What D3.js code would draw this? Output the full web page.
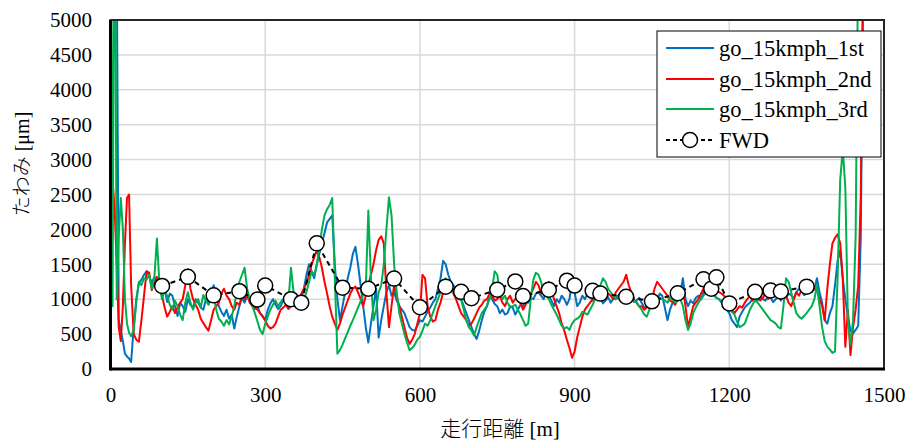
<!DOCTYPE html>
<html>
<head>
<meta charset="utf-8">
<script src="https://cdn.jsdelivr.net/npm/d3@7"></script>
<style>
  body { margin: 0; background: #fff; }
  svg { display: block; }
  text { font-family: "Liberation Serif", "Times New Roman", serif; fill: #000; }
</style>
</head>
<body>
<svg id="chart" width="909" height="441"></svg>
<script>
// Data

const distance = [
  0, 4, 8, 12, 16, 20, 24, 28, 32, 36, 40, 45, 50, 55, 60,
  65, 70, 75, 80, 85, 90, 95, 100, 105, 110, 115, 120, 125, 130, 135, 140, 145, 150, 155, 160,
  165, 170, 175, 180, 185, 190, 195, 200, 205, 210, 215, 220, 225, 230, 235, 240, 245, 250, 255, 260,
  265, 270, 275, 280, 285, 290, 295, 300, 305, 310, 315, 320, 325, 330, 335, 340, 345, 350, 355, 360,
  365, 370, 375, 380, 385, 390, 395, 400, 405, 410, 415, 420, 425, 430, 435, 440, 445, 450, 455, 460,
  465, 470, 475, 480, 485, 490, 495, 500, 505, 510, 515, 520, 525, 530, 535, 540, 545, 550, 555, 560,
  565, 570, 575, 580, 585, 590, 595, 600, 605, 610, 615, 620, 625, 630, 635, 640, 645, 650, 655, 660,
  665, 670, 675, 680, 685, 690, 695, 700, 705, 710, 715, 720, 725, 730, 735, 740, 745, 750, 755, 760,
  765, 770, 775, 780, 785, 790, 795, 800, 805, 810, 815, 820, 825, 830, 835, 840, 845, 850, 855, 860,
  865, 870, 875, 880, 885, 890, 895, 900, 905, 910, 915, 920, 925, 930, 935, 940, 945, 950, 955, 960,
  965, 970, 975, 980, 985, 990, 995, 1000, 1005, 1010, 1015, 1020, 1025, 1030, 1035, 1040, 1045, 1050, 1055, 1060,
  1065, 1070, 1075, 1080, 1085, 1090, 1095, 1100, 1105, 1110, 1115, 1120, 1125, 1130, 1135, 1140, 1145, 1150, 1155, 1160,
  1165, 1170, 1175, 1180, 1185, 1190, 1195, 1200, 1205, 1210, 1215, 1220, 1225, 1230, 1235, 1240, 1245, 1250, 1255, 1260,
  1265, 1270, 1275, 1280, 1285, 1290, 1295, 1300, 1305, 1310, 1315, 1320, 1325, 1330, 1335, 1340, 1345, 1350, 1355, 1360,
  1365, 1370, 1375, 1380,
  1385, 1390, 1395, 1400, 1405, 1410, 1415, 1420, 1425, 1430, 1435, 1440, 1445, 1450, 1455, 1460
];

const run1st = [
  8000, 8000, 7000, 6000, 700, 550, 400, 220, 180, 150, 100, 600, 1000, 1230, 1280,
  1350, 1400, 1330, 1230, 1320, 1250, 1180, 1100, 1150, 960, 1080, 1050, 900, 760, 950, 900, 820, 1000, 920, 880,
  1000, 950, 880, 850, 1000, 960, 1080, 1200, 1050, 900, 820, 760, 850, 720, 780, 580, 750, 900, 1020, 950,
  1050, 1000, 920, 860, 900, 800, 760, 700, 850, 940, 1000, 920, 860, 900, 980, 950, 880, 1000, 1080, 1050,
  980, 1000, 1150, 1350, 1500, 1400, 1300, 1500, 1650, 1800, 1950, 2100, 2150, 2200, 1500, 1000, 700, 900, 1100, 1300,
  1450, 1650, 1750, 1500, 1200, 900, 600, 380, 650, 900, 1150, 450, 700, 900, 1100, 1200, 1050, 1100, 980, 900,
  850, 800, 700, 600, 560, 550, 620, 700, 680, 750, 820, 880, 950, 1000, 1150, 1300, 1550, 1500, 1350, 1250,
  1200, 1150, 1080, 1000, 900, 800, 700, 600, 500, 430, 550, 700, 820, 900, 1050, 1000, 930, 900, 800, 850,
  780, 800, 900, 880, 780, 850, 920, 900, 980, 950, 1020, 1000, 1080, 1100, 1050, 1000, 1120, 1050, 980, 900,
  1000, 950, 1050, 1000, 920, 1000, 1250, 1100, 900, 950, 1050, 1000, 1080, 1050, 980, 1000, 1080, 1020, 940, 980,
  1030, 950, 1010, 1000, 1060, 1080, 1020, 1100, 1040, 1050, 960, 980, 1020, 950, 880, 900, 980, 1000, 920, 950,
  1080, 1050, 880, 700, 850, 950, 1020, 1000, 1080, 1300, 1000, 900, 980, 940, 1020, 1050, 1000, 1100, 1160, 1130,
  1050, 1080, 1020, 1000, 950, 900, 850, 800, 700, 650, 600, 750, 820, 880, 920, 950, 1000, 1030, 980, 1040,
  1000, 980, 1050, 1020, 960, 1000, 1040, 980, 1050, 1020, 1080, 1060, 1000, 1100, 1150, 1130, 1060, 1080, 1120, 1100,
  1150, 1300, 1100, 950,
  700, 650, 800, 900, 1200, 1550, 1700, 1300, 1000, 750, 550, 510, 560, 620, 1900, 6000
];

const run2nd = [
  4600, 2700, 2300, 1500, 600, 400, 900, 1800, 2450, 2500, 1200, 500, 420, 390, 700,
  1050, 1400, 1380, 1130, 1250, 1320, 1150, 1050, 880, 750, 820, 900, 800, 880, 950, 1000, 1200, 1430, 1150, 1000,
  920, 850, 720, 660, 600, 550, 700, 850, 900, 950, 1080, 1150, 1050, 1000, 900, 850, 950, 920, 1050, 1000,
  1050, 950, 900, 880, 850, 800, 750, 700, 620, 580, 600, 650, 750, 850, 880, 920, 860, 900, 980, 950,
  1000, 1080, 1150, 1230, 1350, 1500, 1600, 1700, 1600, 1450, 1250, 1080, 900, 750, 650, 560, 650, 780, 880, 980,
  1080, 1150, 1180, 1100, 1000, 900, 1050, 1200, 1350, 1500, 1700, 1850, 1900, 1800, 1100, 600, 900, 1200, 1050, 900,
  750, 600, 450, 360, 420, 500, 650, 800, 1350, 1300, 900, 750, 680, 700, 850, 950, 1100, 1250, 1200, 1150,
  1080, 1000, 900, 800, 750, 700, 620, 650, 720, 800, 880, 920, 980, 1000, 1080, 1050, 980, 1000, 1050, 950,
  900, 1000, 1050, 950, 1000, 1050, 950, 850, 920, 1000, 1080, 1150, 1250, 1200, 1080, 1100, 1200, 1250, 1150, 1000,
  900, 800, 650, 550, 420, 300, 160, 250, 450, 600, 750, 850, 900, 950, 1000, 1050, 1150, 1100, 1050, 1000,
  1080, 1050, 1000, 1100, 1150, 1200, 1250, 1350, 1200, 1100, 1000, 950, 900, 900, 850, 880, 950, 1000, 1150, 1250,
  1200, 1150, 1100, 1050, 980, 960, 920, 1000, 1080, 1150, 900, 600, 750, 900, 950, 1000, 1080, 1150, 1180, 1200,
  1150, 1180, 1120, 1100, 1080, 1050, 980, 900, 850, 800, 850, 900, 880, 950, 1000, 1050, 980, 1020, 1080, 980,
  1020, 1080, 1000, 1050, 1120, 1100, 1050, 1150, 1100, 1050, 950, 900, 1000, 1100, 1050, 1130, 1200, 1150, 1100, 1180,
  1150, 1120, 1000, 900,
  700, 1150, 1500, 1800, 1880, 1930, 1800, 1300, 320, 850, 200, 600, 850, 1200, 2500, 6000
];

const run3rd = [
  8000, 900, 8000, 1000, 1900, 2450, 2000, 1000, 650, 520, 470, 560, 950, 1250, 1200,
  1300, 1280, 1350, 1150, 1300, 1870, 1200, 1000, 1150, 1040, 920, 850, 980, 900, 780, 700, 950, 1100, 950, 850,
  950, 1000, 880, 1060, 980, 920, 1000, 1050, 850, 720, 680, 620, 700, 640, 750, 900, 1100, 1250, 1350, 1450,
  1150, 1000, 900, 800, 680, 560, 500, 650, 750, 850, 920, 980, 900, 960, 1000, 1050, 980, 1450, 1100, 1000,
  950, 900, 1000, 1100, 1250, 1400, 1350, 1480, 1750, 2000, 2200, 2290, 2350, 2450, 1300, 220, 270, 350, 440, 530,
  620, 700, 790, 880, 970, 1060, 1150, 2270, 1300, 700, 850, 1100, 1200, 1500, 2000, 2460, 2200, 1500, 1100, 800,
  650, 500, 380, 270, 300, 350, 420, 460, 550, 650, 620, 700, 800, 900, 1000, 1100, 1250, 1300, 1250, 1200,
  1100, 1050, 1000, 990, 850, 700, 600, 550, 480, 600, 700, 800, 850, 900, 1000, 1150, 1400, 1350, 1100, 1000,
  1050, 950, 880, 900, 920, 850, 780, 700, 620, 650, 1000, 1280, 1380, 1350, 1250, 1100, 1050, 1000, 920, 850,
  780, 700, 620, 580, 600, 560, 650, 700, 720, 750, 820, 800, 780, 850, 920, 1000, 1100, 1200, 1300, 1250,
  1150, 1100, 1050, 1000, 1020, 1050, 1080, 1100, 1050, 1000, 980, 960, 900, 850, 780, 750, 850, 950, 1000, 1050,
  1020, 1000, 980, 950, 1020, 1000, 950, 980, 1000, 900, 700, 560, 650, 800, 880, 950, 1000, 1050, 1100, 1150,
  1100, 1050, 1020, 1000, 980, 950, 900, 880, 820, 780, 680, 600, 620, 650, 750, 850, 920, 980, 950, 900,
  850, 800, 750, 700, 680, 650, 600, 580, 900, 1300, 1250, 1100, 950, 800, 750, 720, 760, 800, 850, 900,
  1000, 1200, 900, 600,
  400, 320, 280, 230, 250, 1300, 2700, 3150, 2600, 700, 350, 700, 1900, 6000, 6000, 6000
];

const fwdDistance = [100, 150, 200, 250, 285, 300, 350, 370, 400, 450, 500, 550, 600, 650, 680, 700,
  750, 785, 800, 850, 885, 900, 935, 950, 1000, 1050, 1100, 1150, 1165, 1175, 1200, 1250, 1280, 1300, 1350];
const fwdDeflection = [1190, 1320, 1055, 1115, 995, 1195, 1000, 950, 1800, 1165, 1150, 1295, 885, 1180, 1105, 1015,
  1135, 1255, 1045, 1135, 1265, 1195, 1120, 1080, 1035, 970, 1085, 1285, 1150, 1315, 940, 1105, 1125, 1110, 1180];

const seriesNames = ['go_15kmph_1st', 'go_15kmph_2nd', 'go_15kmph_3rd'];
const seriesValues = [run1st, run2nd, run3rd];
const seriesColors = ['#0070C0', '#FF0000', '#00B050'];
const fwdName = 'FWD';

const xTicks = [0, 300, 600, 900, 1200, 1500];
const yTicks = [0, 500, 1000, 1500, 2000, 2500, 3000, 3500, 4000, 4500, 5000];

// Set-up

const svg = d3.select('#chart');
const plot = { left: 110.5, right: 884, top: 20, bottom: 369 };

const x = d3.scaleLinear().domain([0, 1500]).range([plot.left, plot.right]);
const y = d3.scaleLinear().domain([0, 5000]).range([plot.bottom, plot.top]);

svg.append('rect').attr('width', 909).attr('height', 441).attr('fill', '#fff');

// Grid

svg.append('g')
  .selectAll('line')
  .data(yTicks.slice(1))
  .join('line')
  .attr('x1', plot.left).attr('x2', plot.right)
  .attr('y1', (d) => y(d)).attr('y2', (d) => y(d))
  .attr('stroke', '#d9d9d9').attr('stroke-width', 1.5);

svg.append('g')
  .selectAll('line')
  .data(xTicks.slice(1, -1))
  .join('line')
  .attr('y1', plot.top).attr('y2', plot.bottom)
  .attr('x1', (d) => x(d)).attr('x2', (d) => x(d))
  .attr('stroke', '#d9d9d9').attr('stroke-width', 1.5);

// Axes (labels only)

const xAxis = svg.append('g')
  .attr('transform', `translate(0,${plot.bottom})`)
  .call(d3.axisBottom(x).tickValues(xTicks).tickSize(0).tickPadding(18).tickFormat(d3.format('d')));
const yAxis = svg.append('g')
  .attr('transform', `translate(${plot.left},0)`)
  .call(d3.axisLeft(y).tickValues(yTicks).tickSize(0).tickPadding(18.5).tickFormat(d3.format('d')));

[xAxis, yAxis].forEach((g) => {
  g.attr('font-family', null).attr('font-size', null);
  g.select('.domain').remove();
  g.selectAll('text')
    .style('font-family', '"Liberation Serif", "Times New Roman", serif')
    .style('font-size', '21px')
    .attr('fill', '#000');
});

// Lines

svg.append('clipPath').attr('id', 'plotClip')
  .append('rect')
  .attr('x', plot.left).attr('y', plot.top)
  .attr('width', plot.right - plot.left).attr('height', plot.bottom - plot.top);

const line = d3.line()
  .x((d, i) => x(distance[i]))
  .y((d) => y(d));

const lines = svg.append('g').attr('clip-path', 'url(#plotClip)');

seriesValues.forEach((vals, k) => {
  lines.append('path')
    .attr('d', line(vals))
    .attr('fill', 'none')
    .attr('stroke', seriesColors[k])
    .attr('stroke-width', 2)
    .attr('stroke-linejoin', 'round');
});

const fwdLine = d3.line()
  .x((d, i) => x(fwdDistance[i]))
  .y((d) => y(d));

lines.append('path')
  .attr('d', fwdLine(fwdDeflection))
  .attr('fill', 'none')
  .attr('stroke', '#000')
  .attr('stroke-width', 2)
  .attr('stroke-dasharray', '5,4');

lines.selectAll('.fwd')
  .data(fwdDeflection)
  .join('circle')
  .attr('class', 'fwd')
  .attr('cx', (d, i) => x(fwdDistance[i]))
  .attr('cy', (d) => y(d))
  .attr('r', 7.5)
  .attr('fill', '#fff')
  .attr('stroke', '#000')
  .attr('stroke-width', 1.5);

// Plot border

svg.append('rect')
  .attr('x', plot.left).attr('y', plot.top)
  .attr('width', plot.right - plot.left).attr('height', plot.bottom - plot.top)
  .attr('fill', 'none').attr('stroke', '#262626').attr('stroke-width', 2);

svg.append('line')
  .attr('x1', plot.left).attr('x2', plot.left)
  .attr('y1', plot.top).attr('y2', plot.bottom + 1.5)
  .attr('stroke', '#000').attr('stroke-width', 3);
svg.append('line')
  .attr('x1', plot.left).attr('x2', plot.right + 1)
  .attr('y1', plot.bottom).attr('y2', plot.bottom)
  .attr('stroke', '#000').attr('stroke-width', 3);

// Axis titles

const yTitle = svg.append('text')
  .attr('transform', 'translate(29,164) rotate(-90)')
  .attr('text-anchor', 'middle')
  .style('font-size', '20px');
yTitle.append('tspan').style('font-family', '"Noto Sans CJK JP", sans-serif').style('font-weight', 300).text('たわみ');
yTitle.append('tspan').text(' [μm]');

const xTitle = svg.append('text')
  .attr('x', 500).attr('y', 436)
  .attr('text-anchor', 'middle')
  .style('font-size', '21px');
xTitle.append('tspan').style('font-family', '"Noto Sans CJK JP", sans-serif').style('font-weight', 300).text('走行距離');
xTitle.append('tspan').text(' [m]');

// Legend

const legend = svg.append('g');
legend.append('rect')
  .attr('x', 657).attr('y', 31).attr('width', 224).attr('height', 126)
  .attr('fill', '#fff').attr('stroke', '#000').attr('stroke-width', 1);

const rowY = [48, 79, 109, 140];

seriesNames.forEach((name, k) => {
  legend.append('line')
    .attr('x1', 666).attr('x2', 714)
    .attr('y1', rowY[k]).attr('y2', rowY[k])
    .attr('stroke', seriesColors[k]).attr('stroke-width', 2);
  legend.append('text')
    .attr('x', 719).attr('y', rowY[k]).attr('dy', '0.35em')
    .style('font-size', '22.5px')
    .text(name);
});

legend.append('line')
  .attr('x1', 666).attr('x2', 714)
  .attr('y1', rowY[3]).attr('y2', rowY[3])
  .attr('stroke', '#000').attr('stroke-width', 2).attr('stroke-dasharray', '4,3');
legend.append('circle')
  .attr('cx', 690).attr('cy', rowY[3]).attr('r', 7.5)
  .attr('fill', '#fff').attr('stroke', '#000').attr('stroke-width', 1.5);
legend.append('text')
  .attr('x', 719).attr('y', rowY[3]).attr('dy', '0.35em')
  .style('font-size', '22.5px')
  .text(fwdName);
</script>
</body>
</html>
